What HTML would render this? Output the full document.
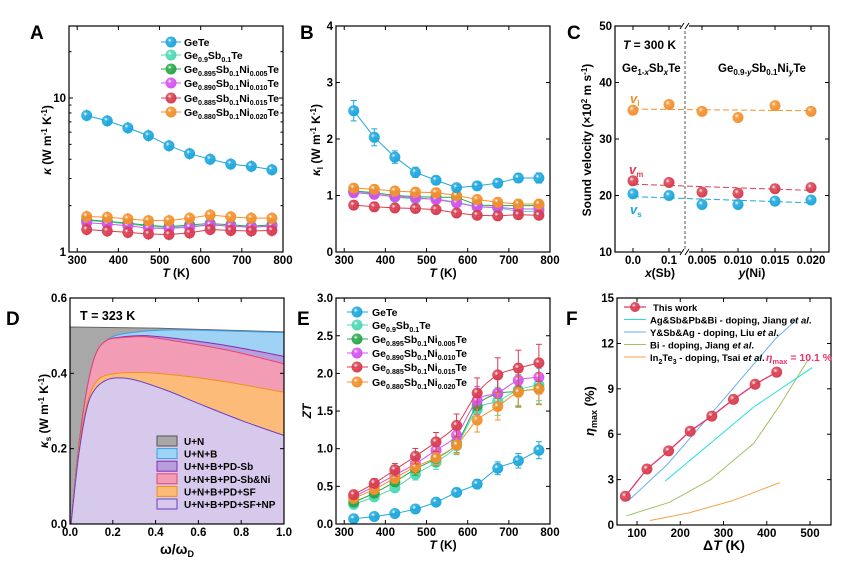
<!DOCTYPE html>
<html><head><meta charset="utf-8"><style>
html,body{margin:0;padding:0;background:#fff;}
svg{display:block;font-family:"Liberation Sans",Arial,sans-serif;font-weight:bold;}
</style></head><body>
<svg id="s" width="866" height="569" viewBox="0 0 866 569" xmlns="http://www.w3.org/2000/svg"></svg>
<script>
const S=[];const add=s=>S.push(s);
const COL={b:'#1ea7dd',c:'#4fd8b4',g:'#2aa748',m:'#d653f2',r:'#d83d50',o:'#f3902c'};
let defs='<defs>';
for(const k in COL){defs+=`<radialGradient id="g${k}" cx="0.38" cy="0.35" r="0.65"><stop offset="0" stop-color="#fff"/><stop offset="0.3" stop-color="${COL[k]}" stop-opacity="0.85"/><stop offset="1" stop-color="${COL[k]}"/></radialGradient>`;}
defs+='</defs>';add(defs);
function mk(x,y,k,r=5.5){add(`<circle cx="${x}" cy="${y}" r="${r}" fill="url(#g${k})"/>`);}
function line(pts,col,w=1,dash=''){add(`<polyline points="${pts.map(p=>p.join(',')).join(' ')}" fill="none" stroke="${col}" stroke-width="${w}" ${dash?`stroke-dasharray="${dash}"`:''}/>`);}
function cr(pts){let d=`M${pts[0][0]},${pts[0][1]}`;for(let i=0;i<pts.length-1;i++){const p0=pts[i-1]||pts[i],p1=pts[i],p2=pts[i+1],p3=pts[i+2]||p2;d+=` C${p1[0]+(p2[0]-p0[0])/6},${p1[1]+(p2[1]-p0[1])/6} ${p2[0]-(p3[0]-p1[0])/6},${p2[1]-(p3[1]-p1[1])/6} ${p2[0]},${p2[1]}`;}return d;}
function txt(x,y,s,o={}){add(`<text x="${x}" y="${y}" font-size="${o.fs||12}" text-anchor="${o.a||'start'}" fill="${o.c||'#000'}" ${o.rot?`transform="rotate(-90 ${x} ${y})"`:''} ${o.it?'font-style="italic"':''}>${s}</text>`);}
function sub(parts,fs=10.5){let s='';parts.forEach((p,i)=>{if(i%2==0)s+=`<tspan font-size="${fs}" dy="${i?-3:0}">${p}</tspan>`;else s+=`<tspan font-size="${fs*0.68}" dy="3">${p}</tspan>`;});return s;}
function box(x0,y0,x1,y1){add(`<rect x="${x0}" y="${y0}" width="${x1-x0}" height="${y1-y0}" fill="none" stroke="#000" stroke-width="1.2"/>`);}
function xt(xs,labs,y0,y1,len=4){xs.forEach((x,i)=>{add(`<line x1="${x}" y1="${y1}" x2="${x}" y2="${y1-len}" stroke="#000"/><line x1="${x}" y1="${y0}" x2="${x}" y2="${y0+len}" stroke="#000"/>`);if(labs&&labs[i]!=null)txt(x,y1+12,labs[i],{a:'middle',fs:11.5});});}
function yt(ys,labs,x0,x1,len=4){ys.forEach((y,i)=>{add(`<line x1="${x0}" y1="${y}" x2="${x0+len}" y2="${y}" stroke="#000"/><line x1="${x1}" y1="${y}" x2="${x1-len}" y2="${y}" stroke="#000"/>`);if(labs&&labs[i]!=null)txt(x0-3,y+4,labs[i],{a:'end',fs:11.5});});}
const T=[323,373,423,473,523,573,623,673,723,773];
const keys=['b','c','g','m','r','o'];
const legLabs=[['GeTe'],['Ge','0.9','Sb','0.1','Te'],['Ge','0.895','Sb','0.1','Ni','0.005','Te'],['Ge','0.890','Sb','0.1','Ni','0.010','Te'],['Ge','0.885','Sb','0.1','Ni','0.015','Te'],['Ge','0.880','Sb','0.1','Ni','0.020','Te']];
const tx=(x0,t)=>x0+(t-280)*214/520;
/* ---- A ---- */
{const x0=69,x1=283,y0=26,y1=252;const ly=v=>252-Math.log10(v)*154;
const d={b:[7.7,7.1,6.4,5.7,4.9,4.35,4.0,3.72,3.6,3.42],c:[1.6,1.57,1.52,1.47,1.44,1.47,1.5,1.47,1.45,1.48],g:[1.62,1.58,1.54,1.49,1.46,1.5,1.53,1.5,1.47,1.5],m:[1.55,1.52,1.48,1.43,1.42,1.45,1.5,1.47,1.45,1.47],r:[1.4,1.37,1.34,1.31,1.3,1.33,1.4,1.38,1.37,1.38],o:[1.7,1.68,1.64,1.6,1.6,1.66,1.74,1.69,1.66,1.66]};
['c','g','m','r','o','b'].forEach(k=>{const p=T.map((t,i)=>[tx(x0,t),ly(d[k][i])]);line(p,COL[k],1);p.forEach(q=>{add(`<line x1="${q[0]}" y1="${q[1]-6}" x2="${q[0]}" y2="${q[1]+6}" stroke="${COL[k]}"/>`);mk(q[0],q[1],k);});});
box(x0,y0,x1,y1);xt([300,400,500,600,700,800].map(t=>tx(x0,t)),['300','400','500','600','700','800'],y0,y1);
yt([ly(1),ly(10)],['1','10'],x0,x1);yt([2,3,4,5,6,7,8,9,20,30].map(ly).filter(y=>y>y0),null,x0,x1,2.5);
const ry=[42,55,69,83,98,112];keys.forEach((k,i)=>{line([[161,ry[i]],[181,ry[i]]],COL[k],1);mk(171,ry[i],k);txt(184,ry[i]+4,sub(legLabs[i]));});
txt(176,277,'<tspan font-style="italic">T</tspan> (K)',{a:'middle'});txt(51,140,'<tspan font-style="italic">κ</tspan> (W m<tspan font-size="8" dy="-4">-1</tspan><tspan dy="4"> K</tspan><tspan font-size="8" dy="-4">-1</tspan><tspan dy="4">)</tspan>',{a:'middle',rot:1});
txt(30,39,'A',{fs:19});}
/* ---- B ---- */
{const x0=336,x1=550,y0=26,y1=252;const ly=v=>252-v*56.5;
const d={b:[2.5,2.03,1.68,1.41,1.27,1.14,1.17,1.22,1.31,1.31],c:[1.07,1.03,0.97,0.94,0.94,0.88,0.8,0.78,0.72,0.72],g:[1.08,1.05,1.0,0.98,0.97,0.97,0.83,0.82,0.82,0.82],m:[1.05,1.02,0.98,0.96,0.93,0.87,0.8,0.79,0.76,0.76],o:[1.13,1.11,1.08,1.06,1.05,1.0,0.93,0.88,0.85,0.85],r:[0.83,0.8,0.78,0.77,0.75,0.69,0.65,0.64,0.66,0.65]};
const eb=[0.18,0.15,0.11,0.09,0.07,0.05,0.06,0.07,0.08,0.09];
['c','g','m','o','r','b'].forEach(k=>{const p=T.map((t,i)=>[tx(x0,t),ly(d[k][i])]);line(p,COL[k],1);p.forEach((q,i)=>{const e=k=='b'?eb[i]*56.5:4;add(`<line x1="${q[0]}" y1="${q[1]-e}" x2="${q[0]}" y2="${q[1]+e}" stroke="${COL[k]}"/><line x1="${q[0]-3}" y1="${q[1]-e}" x2="${q[0]+3}" y2="${q[1]-e}" stroke="${COL[k]}"/><line x1="${q[0]-3}" y1="${q[1]+e}" x2="${q[0]+3}" y2="${q[1]+e}" stroke="${COL[k]}"/>`);mk(q[0],q[1],k);});});
box(x0,y0,x1,y1);xt([300,400,500,600,700,800].map(t=>tx(x0,t)),['300','400','500','600','700','800'],y0,y1);
yt([0,1,2,3,4].map(ly),['0','1','2','3','4'],x0,x1);
txt(443,277,'<tspan font-style="italic">T</tspan> (K)',{a:'middle'});txt(320,140,'<tspan font-style="italic">κ</tspan><tspan font-size="8" dy="3">l</tspan><tspan dy="-3"> (W m</tspan><tspan font-size="8" dy="-4">-1</tspan><tspan dy="4"> K</tspan><tspan font-size="8" dy="-4">-1</tspan><tspan dy="4">)</tspan>',{a:'middle',rot:1});
txt(300,39,'B',{fs:19});}
/* ---- C ---- */
{const x0=615,x1=829,y0=26,y1=252;const ly=v=>252-(v-10)*5.65;const X=[633,669,702,738,775,811];
add(`<line x1="685" y1="${y0}" x2="685" y2="${y1}" stroke="#555" stroke-dasharray="3,2"/>`);
const vl=[35.1,36.1,34.9,33.8,35.9,34.9],vm=[22.6,22.3,20.6,20.4,21.2,21.4],vs=[20.3,20.0,18.4,18.4,19.0,19.2];
line([[633,ly(35.3)],[811,ly(35.0)]],COL.o,1,'6,3');line([[633,ly(22.0)],[811,ly(20.9)]],COL.r,1,'6,3');line([[633,ly(19.8)],[811,ly(18.7)]],COL.b,1,'6,3');
X.forEach((x,i)=>{mk(x,ly(vl[i]),'o');mk(x,ly(vm[i]),'r');mk(x,ly(vs[i]),'b');});
box(x0,y0,x1,y1);xt(X,['0.0','0.1','0.005','0.010','0.015','0.020'],y0,y1);
add(`<rect x="681" y="${y0-3}" width="8" height="6" fill="#fff"/><rect x="681" y="${y1-3}" width="8" height="6" fill="#fff"/>`);
add(`<path d="M680,${y0+3}l4,-6M685,${y0+3}l4,-6M680,${y1+3}l4,-6M685,${y1+3}l4,-6" stroke="#000"/>`);
yt([10,20,30,40,50].map(ly),['10','20','30','40','50'],x0,x1);
txt(623,49,'<tspan font-style="italic">T</tspan> = 300 K',{fs:12});
txt(622,72,'Ge<tspan font-size="8" dy="3">1-<tspan font-style="italic">x</tspan></tspan><tspan dy="-3">Sb</tspan><tspan font-size="8" dy="3" font-style="italic">x</tspan><tspan dy="-3">Te</tspan>',{fs:11.5});
txt(718,72,'Ge<tspan font-size="8" dy="3">0.9-<tspan font-style="italic">y</tspan></tspan><tspan dy="-3">Sb</tspan><tspan font-size="8" dy="3">0.1</tspan><tspan dy="-3">Ni</tspan><tspan font-size="8" dy="3" font-style="italic">y</tspan><tspan dy="-3">Te</tspan>',{fs:11.5});
txt(630,103,'<tspan font-style="italic">v</tspan><tspan font-size="8" dy="3">l</tspan>',{c:COL.o,fs:13});
txt(629,174,'<tspan font-style="italic">v</tspan><tspan font-size="8" dy="3">m</tspan>',{c:COL.r,fs:13});
txt(630,214,'<tspan font-style="italic">v</tspan><tspan font-size="8" dy="3">s</tspan>',{c:COL.b,fs:13});
txt(660,277,'<tspan font-style="italic">x</tspan>(Sb)',{a:'middle'});txt(752,277,'<tspan font-style="italic">y</tspan>(Ni)',{a:'middle'});
txt(591,140,'Sound velocity (×10<tspan font-size="8" dy="-4">2</tspan><tspan dy="4"> m s</tspan><tspan font-size="8" dy="-4">-1</tspan><tspan dy="4">)</tspan>',{a:'middle',rot:1,fs:12});
txt(567,39,'C',{fs:19});}
/* ---- D ---- */
{const x0=70,x1=284,y0=298,y1=524;const X=w=>x0+w*214,Y=v=>y1-v*376.7;
const rise=s=>[[0.005,0],[0.04,0.2*s],[0.08,0.36*s],[0.12,0.45*s],[0.17,0.487*s]];
const curves=[
 ['#9fd3f6','#3a9fe6',[...rise(1),[0.25,0.505],[0.45,0.515],[0.7,0.513],[1,0.508]]],
 ['#b89ddd','#8a2bb0',[...rise(1),[0.25,0.497],[0.35,0.5],[0.5,0.492],[0.75,0.472],[1,0.445]]],
 ['#f29cb6','#e8456e',[...rise(1),[0.25,0.495],[0.35,0.497],[0.5,0.485],[0.75,0.46],[1,0.425]]],
 ['#fdbb79','#f28e1b',[[0.005,0],[0.04,0.19],[0.08,0.32],[0.12,0.375],[0.17,0.395],[0.28,0.402],[0.45,0.398],[0.7,0.38],[1,0.35]]],
 ['#d7c9ec','#6a3fc8',[[0.005,0],[0.04,0.18],[0.08,0.31],[0.12,0.36],[0.17,0.382],[0.22,0.388],[0.3,0.383],[0.45,0.355],[0.6,0.32],[0.8,0.275],[1,0.235]]]];
add(`<path d="M${X(0)},${Y(0)}L${X(0)},${Y(0.523)}L${X(0.4)},${Y(0.52)}L${X(1)},${Y(0.51)}L${X(1)},${Y(0)}Z" fill="#a8a8a8" stroke="#666"/>`);
curves.forEach(c=>{const p=c[2].map(q=>[X(q[0]),Y(q[1])]);const d=cr(p);add(`<path d="${d} L${X(1)},${Y(0)} Z" fill="${c[0]}"/><path d="${d}" fill="none" stroke="${c[1]}" stroke-width="1"/>`);});
box(x0,y0,x1,y1);xt([0,0.2,0.4,0.6,0.8,1].map(X),['0.0','0.2','0.4','0.6','0.8','1.0'],y0,y1);
yt([0,0.2,0.4,0.6].map(Y),['0.0','0.2','0.4','0.6'],x0,x1);
txt(80,320,'T = 323 K',{fs:12.5});
const lc=[['#a8a8a8','#555','U+N'],['#9fd3f6','#3a9fe6','U+N+B'],['#b89ddd','#8a2bb0','U+N+B+PD-Sb'],['#f29cb6','#e8456e','U+N+B+PD-Sb&amp;Ni'],['#fdbb79','#f28e1b','U+N+B+PD+SF'],['#d7c9ec','#6a3fc8','U+N+B+PD+SF+NP']];
lc.forEach((l,i)=>{const y=441+i*12.6;add(`<rect x="157" y="${y-5}" width="20" height="10" fill="${l[0]}" stroke="${l[1]}"/>`);txt(184,y+4,l[2],{fs:10});});
txt(177,554,'ω/ω<tspan font-size="9" dy="3">D</tspan>',{a:'middle',fs:14});
txt(48,411,'<tspan font-style="italic">κ</tspan><tspan font-size="8" dy="3">s</tspan><tspan dy="-3"> (W m</tspan><tspan font-size="8" dy="-4">-1</tspan><tspan dy="4"> K</tspan><tspan font-size="8" dy="-4">-1</tspan><tspan dy="4">)</tspan>',{a:'middle',rot:1});
txt(6,325,'D',{fs:19});}
/* ---- E ---- */
{const x0=336,x1=550,y0=298,y1=524;const ly=v=>y1-v*75.3;
const d={b:[0.07,0.1,0.14,0.2,0.29,0.42,0.53,0.74,0.84,0.98],c:[0.26,0.36,0.48,0.66,0.82,1.04,1.52,1.63,1.78,1.85],g:[0.29,0.41,0.56,0.73,0.87,1.07,1.57,1.73,1.76,1.8],m:[0.36,0.5,0.65,0.8,0.98,1.18,1.64,1.74,1.91,1.95],o:[0.34,0.46,0.61,0.76,0.88,1.05,1.38,1.56,1.75,1.79],r:[0.39,0.54,0.72,0.9,1.09,1.31,1.74,1.98,2.07,2.14]};
['b','c','g','m','o','r'].forEach(k=>{const p=T.map((t,i)=>[tx(x0,t),ly(d[k][i])]);add(`<path d="${cr(p)}" fill="none" stroke="${COL[k]}" stroke-width="1"/>`);p.forEach((q,i)=>{const e=d[k][i]*0.115*75.3;add(`<line x1="${q[0]}" y1="${q[1]-e}" x2="${q[0]}" y2="${q[1]+e}" stroke="${COL[k]}"/><line x1="${q[0]-3}" y1="${q[1]-e}" x2="${q[0]+3}" y2="${q[1]-e}" stroke="${COL[k]}"/><line x1="${q[0]-3}" y1="${q[1]+e}" x2="${q[0]+3}" y2="${q[1]+e}" stroke="${COL[k]}"/>`);mk(q[0],q[1],k);});});
box(x0,y0,x1,y1);xt([300,400,500,600,700,800].map(t=>tx(x0,t)),['300','400','500','600','700','800'],y0,y1);
yt([0,0.5,1,1.5,2,2.5,3].map(ly),['0.0','0.5','1.0','1.5','2.0','2.5','3.0'],x0,x1);
const ry=[312,325,339,353,367,382];keys.forEach((k,i)=>{line([[347,ry[i]],[368,ry[i]]],COL[k],1);mk(357,ry[i],k);txt(372,ry[i]+4,sub(legLabs[i]));});
txt(443,549,'<tspan font-style="italic">T</tspan> (K)',{a:'middle'});txt(311,411,'ZT',{a:'middle',rot:1,it:1});
txt(297,325,'E',{fs:19});}
/* ---- F ---- */
{const x0=617,x1=831,y0=298,y1=525;const X=t=>637+(t-100)*0.4325,Y=v=>y1-v*15.13;
const P=a=>a.map(q=>[X(q[0]),Y(q[1])]);
line(P([[130,0.3],[220,0.8],[320,1.6],[430,2.8]]),'#f5a14a',1);
line(P([[75,0.6],[175,1.5],[270,3.0],[370,5.4],[430,7.9],[495,10.9]]),'#9cc465',1);
line(P([[165,2.9],[270,5.4],[370,7.8],[505,10.4]]),'#22e0e0',1);
line(P([[80,1.6],[170,4],[270,7.3],[420,12.3],[470,13.6]]),'#6ab0ea',1);
const tw=P([[73,1.9],[123,3.7],[173,4.9],[223,6.2],[273,7.2],[323,8.3],[373,9.3],[423,10.1]]);
line(tw,'#e6336b',1.3);tw.forEach(q=>mk(q[0],q[1],'r',5.5));
box(x0,y0,x1,y1);
xt([100,200,300,400,500].map(X),['100','200','300','400','500'],y0,y1);
yt([0,3,6,9,12,15].map(Y),['0','3','6','9','12','15'],x0,x1);
const lg=[['#e6336b','This work'],['#22e0e0','Ag&amp;Sb&amp;Pb&amp;Bi - doping, Jiang <tspan font-style="italic">et al</tspan>.'],['#6ab0ea','Y&amp;Sb&amp;Ag - doping, Liu <tspan font-style="italic">et al</tspan>.'],['#9cc465','Bi - doping, Jiang <tspan font-style="italic">et al</tspan>.'],['#f5a14a','In<tspan font-size="7" dy="3">2</tspan><tspan dy="-3">Te</tspan><tspan font-size="7" dy="3">3</tspan><tspan dy="-3"> - doping, Tsai </tspan><tspan font-style="italic">et al</tspan>.']];
lg.forEach((l,i)=>{const y=307+i*12.5;line([[624,y],[646,y]],l[0],i?1:1.3);if(!i)mk(635,y,'r',5);txt(i?650:653,y+4,l[1],{fs:9.5});});
txt(766,361,'<tspan font-style="italic">η</tspan><tspan font-size="7.5" dy="3">max</tspan><tspan dy="-3"> = 10.1 %</tspan>',{c:'#e6336b',fs:10.5});
txt(724,550,'Δ<tspan font-style="italic">T</tspan> (K)',{a:'middle',fs:14});
txt(594,411,'<tspan font-style="italic">η</tspan><tspan font-size="9" dy="3">max</tspan><tspan dy="-3"> (%)</tspan>',{a:'middle',rot:1,fs:13});
txt(566,325,'F',{fs:19});}
document.getElementById('s').innerHTML=S.join('');
</script>
</body></html>
